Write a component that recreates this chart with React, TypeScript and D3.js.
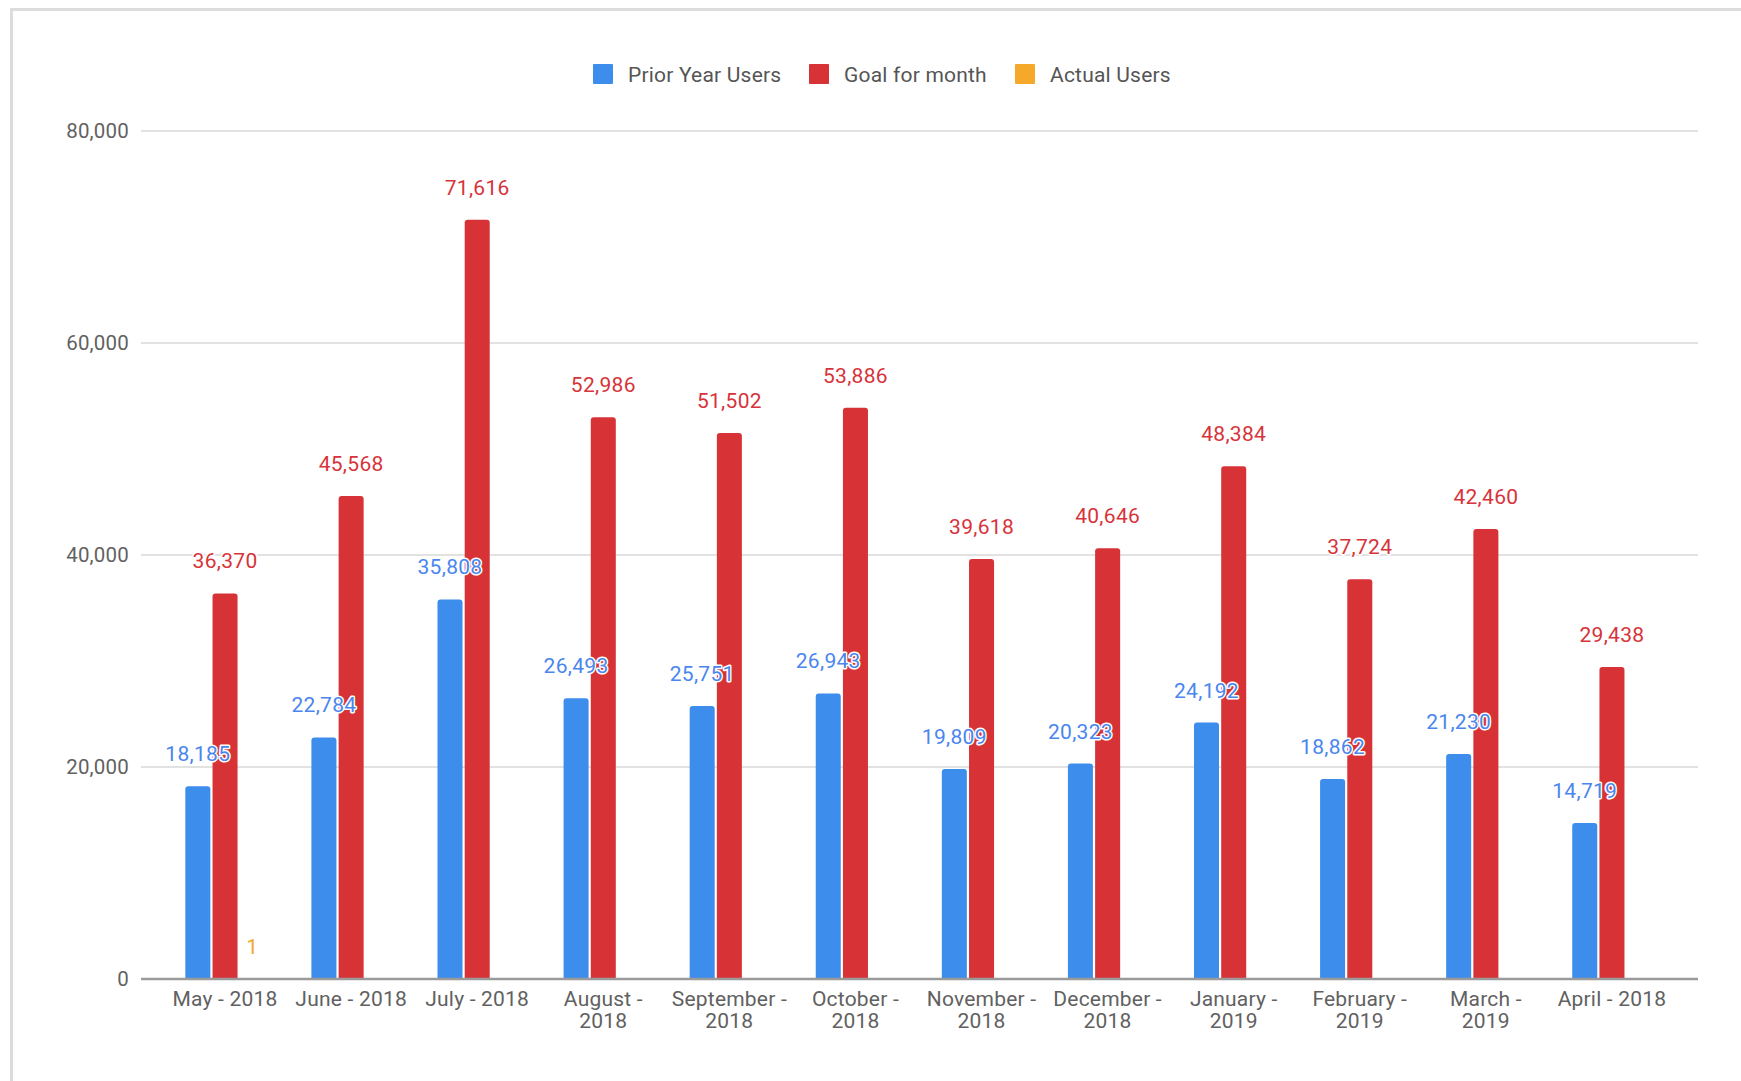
import React from "react";
import * as d3 from "d3";

const categories = [
  "May - 2018", "June - 2018", "July - 2018", "August - 2018", "September - 2018",
  "October - 2018", "November - 2018", "December - 2018", "January - 2019",
  "February - 2019", "March - 2019", "April - 2018",
];
const priorYearUsers = [18185, 22784, 35808, 26493, 25751, 26943, 19809, 20323, 24192, 18862, 21230, 14719];
const goalForMonth = [36370, 45568, 71616, 52986, 51502, 53886, 39618, 40646, 48384, 37724, 42460, 29438];
const actualUsers: (number | null)[] = [1, null, null, null, null, null, null, null, null, null, null, null];
const seriesNames = ["Prior Year Users", "Goal for month", "Actual Users"];
const seriesColors = ["#3d8dec", "#d73337", "#f5a82a"];
const labelColors = ["#4a86ee", "#d7333a", "#f5a82a"];
const yTicks = [0, 20000, 40000, 60000, 80000];

const W = 1741;
const H = 1081;
const FONT = "Roboto, 'Noto Sans', sans-serif";

function measure(text: string, size: number) {
  if (typeof document === "undefined") return text.length * size * 0.5;
  const c = document.createElement("canvas").getContext("2d");
  if (!c) return text.length * size * 0.5;
  c.font = `${size}px Roboto`;
  return c.measureText(text).width;
}

function wrapLabel(label: string, maxW: number, size: number): string[] {
  if (measure(label, size) <= maxW) return [label];
  const i = label.lastIndexOf(" ");
  return [label.slice(0, i), label.slice(i + 1)];
}

export default function App() {
  const x = d3.scaleBand<string>().domain(categories).range([162, 1675]).paddingInner(0.37).paddingOuter(0.185);
  const xs = d3.scaleBand<string>().domain(seriesNames).range([0, x.bandwidth()]).paddingInner(0.08);
  const y = d3.scaleLinear().domain([0, 80000]).range([979, 131]);
  const fmt = d3.format(",");
  const series = [priorYearUsers, goalForMonth, actualUsers];

  const plotLeft = 141;
  const plotRight = 1698;
  const legendX = [593, 809, 1015];

  const marks: { ci: number; si: number; v: number; bx: number; bw: number; top: number }[] = [];
  categories.forEach((c, ci) => {
    series.forEach((s, si) => {
      const v = s[ci];
      if (v == null) return;
      const bx = (x(c) as number) + (xs(seriesNames[si]) as number);
      marks.push({ ci, si, v, bx, bw: xs.bandwidth(), top: y(v) });
    });
  });

  return (
    <svg
      width={W}
      height={H}
      style={{ position: "absolute", left: 0, top: 0, background: "#fff" }}
      fontFamily={FONT}
    >
      <rect x={0} y={0} width={W} height={H} fill="#fff" />
      <rect x={11.5} y={9.5} width={W + 100} height={H + 100} fill="#fff" stroke="#dcdcdc" strokeWidth={3} />

      {/* legend */}
      {seriesNames.map((n, i) => (
        <g key={n}>
          <rect x={legendX[i]} y={64} width={20} height={20} rx={1} fill={seriesColors[i]} />
          <text x={legendX[i] + 35} y={81.5} fontSize={21} letterSpacing={0.2} fill="#555">{n}</text>
        </g>
      ))}

      {/* gridlines */}
      {yTicks.map((t) => (
        <g key={t}>
          {t !== 0 && (
            <line x1={plotLeft} x2={plotRight} y1={y(t)} y2={y(t)} stroke="#e2e2e2" strokeWidth={2} />
          )}
          <text x={129} y={y(t) + 7} textAnchor="end" fontSize={20.5} letterSpacing={0.2} fill="#616161">{fmt(t)}</text>
        </g>
      ))}

      {/* bars */}
      {marks.map((m, i) => {
        const h = y(0) - m.top;
        if (h <= 0.5) return null;
        const { bx, bw, top } = m;
        return (
          <path
            key={i}
            d={`M${bx},${y(0)} V${top + 3} Q${bx},${top} ${bx + 3},${top} H${bx + bw - 3} Q${bx + bw},${top} ${bx + bw},${top + 3} V${y(0)} Z`}
            fill={seriesColors[m.si]}
          />
        );
      })}

      {/* baseline */}
      <line x1={plotLeft} x2={plotRight} y1={y(0)} y2={y(0)} stroke="#9a9a9a" strokeWidth={2.5} />

      {/* value labels on top */}
      {marks.map((m, i) => (
        <text
          key={i}
          x={m.bx + m.bw / 2}
          y={m.top - 25}
          textAnchor="middle"
          fontSize={21}
          letterSpacing={0.3}
          fill={labelColors[m.si]}
          stroke="#fff"
          strokeWidth={3}
          paintOrder="stroke"
          strokeLinejoin="round"
        >
          {fmt(m.v)}
        </text>
      ))}

      {/* x labels */}
      {categories.map((c) => {
        const lines = wrapLabel(c, 115, 21);
        const cx = (x(c) as number) + x.bandwidth() / 2;
        return (
          <text key={c} x={cx} y={1006} textAnchor="middle" fontSize={21} letterSpacing={0.2} fill="#616161">
            {lines.map((l, i) => (
              <tspan key={i} x={cx} dy={i === 0 ? 0 : 22}>{l}</tspan>
            ))}
          </text>
        );
      })}
    </svg>
  );
}
